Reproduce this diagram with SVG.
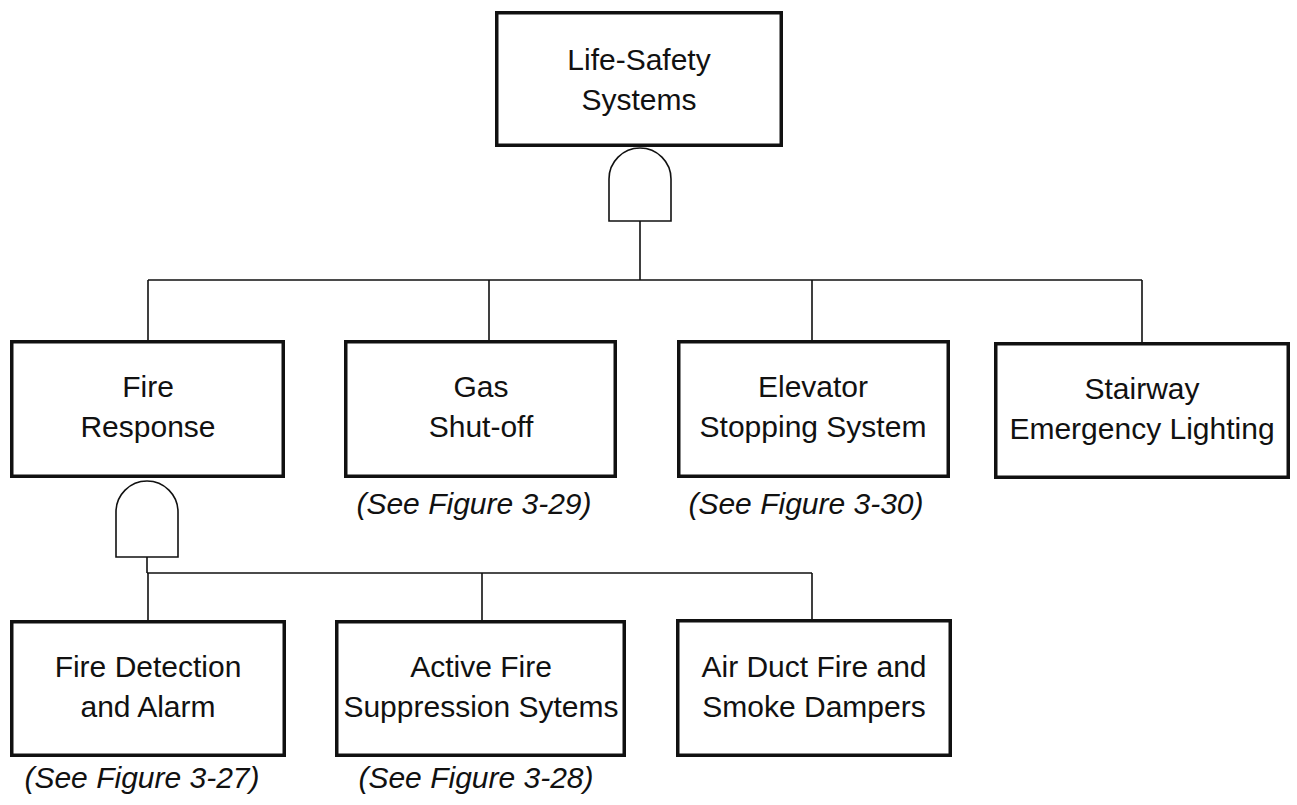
<svg xmlns="http://www.w3.org/2000/svg" width="1297" height="805" viewBox="0 0 1297 805">
<style>
.box{fill:#fff;stroke:#111;stroke-width:3.5}
.gate{fill:#fff;stroke:#111;stroke-width:1.6}
.conn{fill:none;stroke:#111;stroke-width:1.6}
text{font-family:"Liberation Sans",Arial,sans-serif;font-size:30px;fill:#111;text-anchor:middle}
.ref{font-style:italic}
</style>
<rect width="1297" height="805" fill="#fff"/>
<g id="connectors">
<path class="conn" d="M640,221 V280 M148,280 H1142 M148,280 V340 M489,280 V340 M812,280 V340 M1142,280 V342"/>
<path class="conn" d="M147,557 V573 M147,573 H812 M148,573 V620 M482,573 V620 M812,573 V619"/>
</g>
<g id="life-safety">
<rect class="box" x="496.75" y="12.75" width="284.5" height="132.5"/>
<text x="639" y="70">Life-Safety</text>
<text x="639" y="110">Systems</text>
</g>
<g id="gate-top">
<path class="gate" d="M609,221 V179 A31,31 0 0 1 671,179 V221 Z"/>
</g>
<g id="fire-response">
<rect class="box" x="11.75" y="341.75" width="271.5" height="134.5"/>
<text x="148" y="397">Fire</text>
<text x="148" y="437">Response</text>
</g>
<g id="gate-fire">
<path class="gate" d="M116,557 V512 A31,31 0 0 1 178,512 V557 Z"/>
</g>
<g id="gas-shutoff">
<rect class="box" x="345.75" y="341.75" width="269.5" height="134.5"/>
<text x="481" y="397">Gas</text>
<text x="481" y="437">Shut-off</text>
<text class="ref" x="474" y="514">(See Figure 3-29)</text>
</g>
<g id="elevator">
<rect class="box" x="678.75" y="341.75" width="269.5" height="134.5"/>
<text x="813" y="397">Elevator</text>
<text x="813" y="437">Stopping System</text>
<text class="ref" x="806" y="514">(See Figure 3-30)</text>
</g>
<g id="stairway">
<rect class="box" x="995.75" y="343.75" width="292.5" height="133.5"/>
<text x="1142" y="399">Stairway</text>
<text x="1142" y="439">Emergency Lighting</text>
</g>
<g id="fire-detection">
<rect class="box" x="11.75" y="621.75" width="272.5" height="133.5"/>
<text x="148" y="677">Fire Detection</text>
<text x="148" y="717">and Alarm</text>
<text class="ref" x="142" y="788">(See Figure 3-27)</text>
</g>
<g id="active-fire">
<rect class="box" x="336.75" y="621.75" width="287.5" height="133.5"/>
<text x="481" y="677">Active Fire</text>
<text x="481" y="717">Suppression Sytems</text>
<text class="ref" x="476" y="788">(See Figure 3-28)</text>
</g>
<g id="air-duct">
<rect class="box" x="677.75" y="620.75" width="272.5" height="134.5"/>
<text x="814" y="677">Air Duct Fire and</text>
<text x="814" y="717">Smoke Dampers</text>
</g>
</svg>
